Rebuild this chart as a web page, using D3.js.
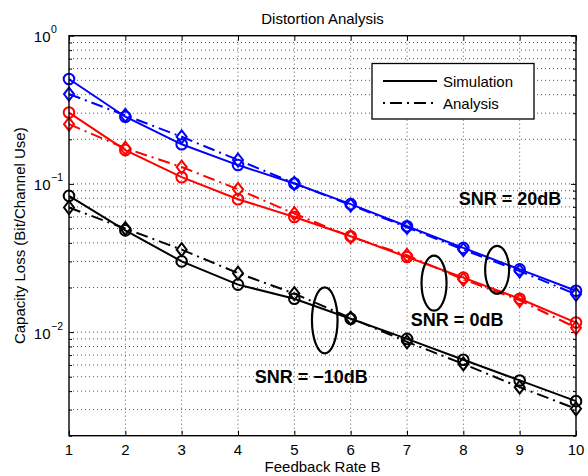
<!DOCTYPE html>
<html>
<head>
<meta charset="utf-8">
<script src="https://cdn.jsdelivr.net/npm/d3@7/dist/d3.min.js"></script>
<style>
  body { margin: 0; background: #fff; }
  text { font-family: "Liberation Sans", Arial, Helvetica, sans-serif; fill: #000; }
</style>
</head>
<body>
<script>
// feedback rate B
var rates = [1, 2, 3, 4, 5, 6, 7, 8, 9, 10];

// SNR = 20dB
var sim20 = [0.51, 0.284, 0.185, 0.134, 0.1007, 0.073, 0.0518, 0.037, 0.0265, 0.019];
var ana20 = [0.404, 0.29, 0.208, 0.145, 0.101, 0.072, 0.051, 0.036, 0.0258, 0.018];
// SNR = 0dB
var sim0 = [0.303, 0.169, 0.111, 0.0788, 0.0598, 0.0443, 0.0321, 0.0233, 0.0168, 0.0116];
var ana0 = [0.253, 0.174, 0.13, 0.092, 0.063, 0.044, 0.033, 0.0227, 0.0164, 0.0107];
// SNR = -10dB
var simM10 = [0.083, 0.0486, 0.030, 0.0209, 0.0168, 0.0123, 0.009, 0.00651, 0.00472, 0.00342];
var anaM10 = [0.0693, 0.050, 0.036, 0.025, 0.0182, 0.01244, 0.0086, 0.0061, 0.00425, 0.00304];

var xTicks = [1, 2, 3, 4, 5, 6, 7, 8, 9, 10];
var yMajor = [1, 0.1, 0.01];
var yMajorExp = ["0", "\u22121", "\u22122"];

var width = 588, height = 476;
var margin = {top: 35.7, right: 12, bottom: 40.3, left: 69};

var svg = d3.select("body").append("svg")
    .attr("width", width)
    .attr("height", height);

var x = d3.scaleLinear()
    .domain([1, 10])
    .range([margin.left, width - margin.right]);

var y = d3.scaleLog()
    .domain([0.002, 1])
    .range([height - margin.bottom, margin.top]);

// all minor values inside the domain
var yMinor = [];
[0.001, 0.01, 0.1].forEach(function(dec) {
  for (var k = 2; k <= 9; k++) {
    var v = dec * k;
    if (v >= 0.002 && v <= 1) yMinor.push(v);
  }
});

// grid
var grid = svg.append("g")
    .attr("stroke", "#555")
    .attr("stroke-width", 1)
    .attr("stroke-dasharray", "1,3");

grid.selectAll("line.gx")
  .data(xTicks.slice(1, -1))
  .join("line")
    .attr("x1", d => x(d)).attr("x2", d => x(d))
    .attr("y1", y.range()[1]).attr("y2", y.range()[0]);

grid.selectAll("line.gy")
  .data(yMajor.concat(yMinor).filter(v => v > 0.002 && v < 1))
  .join("line")
    .attr("x1", x.range()[0]).attr("x2", x.range()[1])
    .attr("y1", d => y(d)).attr("y2", d => y(d));

// axes (ticks inward, MATLAB style)
var xBottom = d3.axisBottom(x).tickValues(xTicks).tickSize(-5).tickFormat("");
var xTop = d3.axisTop(x).tickValues(xTicks).tickSize(-5).tickFormat("");
var yLeft = d3.axisLeft(y).tickValues(yMajor).tickSize(-5).tickFormat(() => "");
var yRight = d3.axisRight(y).tickValues(yMajor).tickSize(-5).tickFormat(() => "");
var yLeftMinor = d3.axisLeft(y).tickValues(yMinor).tickSize(-3).tickFormat(() => "");
var yRightMinor = d3.axisRight(y).tickValues(yMinor).tickSize(-3).tickFormat(() => "");

function styleAxis(g) {
  g.select(".domain").remove();
  g.selectAll(".tick line").attr("stroke", "#000").attr("stroke-width", 1);
}

svg.append("g").attr("transform", "translate(0," + y.range()[0] + ")").call(xBottom).call(styleAxis);
svg.append("g").attr("transform", "translate(0," + y.range()[1] + ")").call(xTop).call(styleAxis);
svg.append("g").attr("transform", "translate(" + x.range()[0] + ",0)").call(yLeft).call(styleAxis);
svg.append("g").attr("transform", "translate(" + x.range()[1] + ",0)").call(yRight).call(styleAxis);
svg.append("g").attr("transform", "translate(" + x.range()[0] + ",0)").call(yLeftMinor).call(styleAxis);
svg.append("g").attr("transform", "translate(" + x.range()[1] + ",0)").call(yRightMinor).call(styleAxis);

// x tick labels
svg.append("g").selectAll("text")
  .data(xTicks)
  .join("text")
    .attr("x", d => x(d))
    .attr("y", y.range()[0] + 19.5)
    .attr("text-anchor", "middle")
    .attr("font-size", 15)
    .text(d => d);

// y tick labels 10^n
svg.append("g").selectAll("text")
  .data(yMajor)
  .join("text")
    .attr("x", 50.5)
    .attr("y", d => y(d) + 6.5)
    .attr("text-anchor", "end")
    .attr("font-size", 15)
    .text("10");
svg.append("g").selectAll("text")
  .data(yMajor)
  .join("text")
    .attr("x", 51)
    .attr("y", d => y(d) - 2.5)
    .attr("font-size", 10.5)
    .text((d, i) => yMajorExp[i]);

// series
var series = [
  {vals: sim20, color: "#0000ff", dash: null, mark: "circle"},
  {vals: ana20, color: "#0000ff", dash: "12,5,2,5", mark: "diamond"},
  {vals: sim0, color: "#ff0000", dash: null, mark: "circle"},
  {vals: ana0, color: "#ff0000", dash: "12,5,2,5", mark: "diamond"},
  {vals: simM10, color: "#000000", dash: null, mark: "circle"},
  {vals: anaM10, color: "#000000", dash: "12,5,2,5", mark: "diamond"}
];

var line = d3.line()
    .x((d, i) => x(rates[i]))
    .y(d => y(d));

var sg = svg.append("g").selectAll("g")
  .data(series)
  .join("g");

sg.append("path")
    .attr("d", d => line(d.vals))
    .attr("fill", "none")
    .attr("stroke", d => d.color)
    .attr("stroke-width", 2)
    .attr("stroke-dasharray", d => d.dash);

sg.each(function(s) {
  var g = d3.select(this);
  if (s.mark === "circle") {
    g.selectAll("circle")
      .data(s.vals)
      .join("circle")
        .attr("cx", (d, i) => x(rates[i]))
        .attr("cy", d => y(d))
        .attr("r", 5.3)
        .attr("fill", "none")
        .attr("stroke", s.color)
        .attr("stroke-width", 2);
  } else {
    g.selectAll("path.dm")
      .data(s.vals)
      .join("path")
        .attr("class", "dm")
        .attr("d", (d, i) => {
          var cx = x(rates[i]), cy = y(d);
          return "M" + cx + "," + (cy - 6.5) + "L" + (cx + 5) + "," + cy +
                 "L" + cx + "," + (cy + 6.5) + "L" + (cx - 5) + "," + cy + "Z";
        })
        .attr("fill", "none")
        .attr("stroke", s.color)
        .attr("stroke-width", 2);
  }
});

// frame
svg.append("rect")
    .attr("x", x.range()[0])
    .attr("y", y.range()[1])
    .attr("width", x.range()[1] - x.range()[0])
    .attr("height", y.range()[0] - y.range()[1])
    .attr("fill", "none")
    .attr("stroke", "#000")
    .attr("stroke-width", 1.4);

// ellipses grouping the curves
var ellipses = [
  {b: 8.6, v: 0.0263, rx: 12, ry: 24},
  {b: 7.48, v: 0.0214, rx: 12.5, ry: 27.5},
  {b: 5.54, v: 0.0120, rx: 12.8, ry: 33}
];
svg.append("g").selectAll("ellipse")
  .data(ellipses)
  .join("ellipse")
    .attr("cx", d => x(d.b))
    .attr("cy", d => y(d.v))
    .attr("rx", d => d.rx)
    .attr("ry", d => d.ry)
    .attr("fill", "none")
    .attr("stroke", "#000")
    .attr("stroke-width", 2.2);

// SNR labels
var labels = [
  {t: "SNR = 20dB", b: 8.83, v: 0.072},
  {t: "SNR = 0dB", b: 7.89, v: 0.011},
  {t: "SNR = \u221210dB", b: 5.3, v: 0.00452}
];
svg.append("g").selectAll("text")
  .data(labels)
  .join("text")
    .attr("x", d => x(d.b))
    .attr("y", d => y(d.v))
    .attr("text-anchor", "middle")
    .attr("font-size", 18)
    .attr("font-weight", "bold")
    .text(d => d.t);

// legend
var lg = svg.append("g");
lg.append("rect")
    .attr("x", 372).attr("y", 63.5)
    .attr("width", 162).attr("height", 55.5)
    .attr("fill", "#fff")
    .attr("stroke", "#000")
    .attr("stroke-width", 1.3);
[{t: "Simulation", dash: null}, {t: "Analysis", dash: "12,5,2,5"}].forEach(function(e, i) {
  var ly = 81 + i * 22;
  lg.append("line")
      .attr("x1", 383).attr("x2", 437)
      .attr("y1", ly).attr("y2", ly)
      .attr("stroke", "#000")
      .attr("stroke-width", 2)
      .attr("stroke-dasharray", e.dash ? "2,5,12,5" : null);
  lg.append("text")
      .attr("x", 443)
      .attr("y", ly + 5.5)
      .attr("font-size", 15)
      .text(e.t);
});

// titles
svg.append("text")
    .attr("x", (x.range()[0] + x.range()[1]) / 2)
    .attr("y", 24)
    .attr("text-anchor", "middle")
    .attr("font-size", 15)
    .text("Distortion Analysis");

svg.append("text")
    .attr("x", (x.range()[0] + x.range()[1]) / 2)
    .attr("y", 472)
    .attr("text-anchor", "middle")
    .attr("font-size", 15)
    .text("Feedback Rate B");

svg.append("text")
    .attr("transform", "translate(25," + ((y.range()[0] + y.range()[1]) / 2) + ") rotate(-90)")
    .attr("text-anchor", "middle")
    .attr("font-size", 15)
    .text("Capacity Loss (Bit/Channel Use)");
</script>
</body>
</html>
